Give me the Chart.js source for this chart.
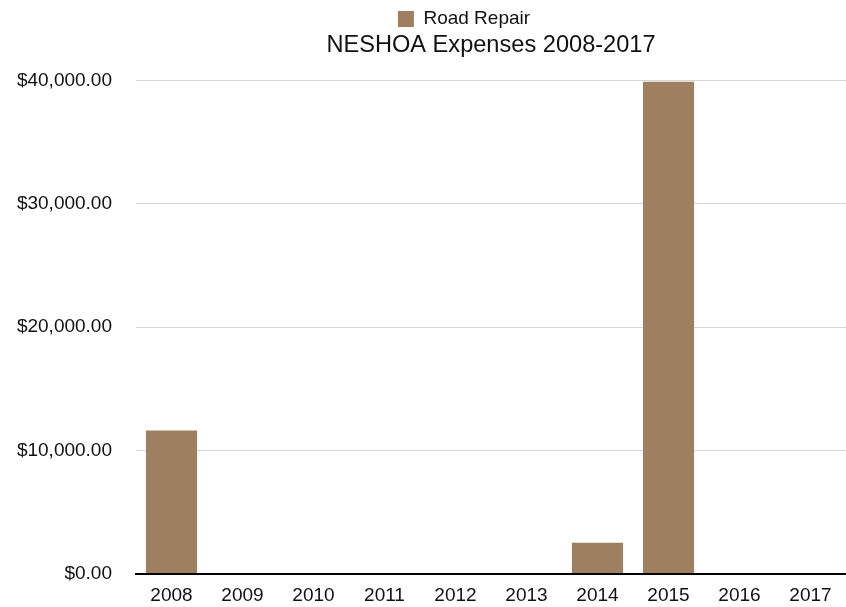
<!DOCTYPE html>
<html>
<head>
<meta charset="utf-8">
<script src="https://cdn.jsdelivr.net/npm/chart.js@4"></script>
<style>
html,body{margin:0;padding:0;background:#fff;}
#wrap{width:846px;height:607px;position:relative;}
</style>
</head>
<body>
<div id="wrap"><canvas id="c" width="846" height="607"></canvas></div>
<script>
const categories = ["2008","2009","2010","2011","2012","2013","2014","2015","2016","2017"];
const roadRepair = [11600, 0, 0, 0, 0, 0, 2500, 39900, 0, 0];
const seriesName = "Road Repair";
const chartTitle = "NESHOA Expenses 2008-2017";
const yTicks = [0, 10000, 20000, 30000, 40000];

const fam = "'Liberation Sans', Arial, Helvetica, sans-serif";
const fmt = v => "$" + Number(v).toLocaleString("en-US", {minimumFractionDigits: 2, maximumFractionDigits: 2});

// nudge the legend box so its item sits where the reference has it
const legendShift = {
  id: "legendShift",
  afterLayout(chart) {
    const lg = chart.legend;
    if (lg) { lg.left += 41; lg.right += 41; }
  }
};

new Chart(document.getElementById("c"), {
  type: "bar",
  data: {
    labels: categories,
    datasets: [{
      label: seriesName,
      data: roadRepair,
      backgroundColor: "#9e7f5f",
      borderWidth: 0,
      barPercentage: 0.72,
      categoryPercentage: 1.0
    }]
  },
  plugins: [legendShift],
  options: {
    responsive: false,
    animation: false,
    devicePixelRatio: 1,
    layout: { padding: { left: 0, right: 0, top: 5.5, bottom: 0 } },
    plugins: {
      legend: {
        weight: 3000,
        labels: {
          boxWidth: 16, boxHeight: 16, color: "#111",
          font: { family: fam, size: 19 }, padding: 4
        }
      },
      title: {
        display: true, text: chartTitle, color: "#111",
        fullSize: false,
        font: { family: fam, size: 23.6, weight: "normal", lineHeight: 1.0 },
        padding: { top: -4.5, bottom: 23 }
      },
      tooltip: { enabled: false }
    },
    scales: {
      x: {
        afterFit: s => { s.height = 33.5; },
        grid: { display: false, drawTicks: false },
        border: { display: true, color: "#000", width: 2 },
        ticks: { color: "#111", font: { family: fam, size: 19 }, padding: 11, maxRotation: 0 }
      },
      y: {
        min: 0, max: 40000,
        afterFit: s => { s.width = 136; s.paddingTop = 12; s.paddingBottom = 12; },
        afterBuildTicks: s => { s.ticks = yTicks.map(v => ({ value: v })); },
        grid: { color: "#d6d6d6", lineWidth: 1, drawTicks: false },
        border: { display: false },
        ticks: { color: "#111", font: { family: fam, size: 19 }, padding: 24, callback: v => fmt(v) }
      }
    }
  }
});
</script>
</body>
</html>
